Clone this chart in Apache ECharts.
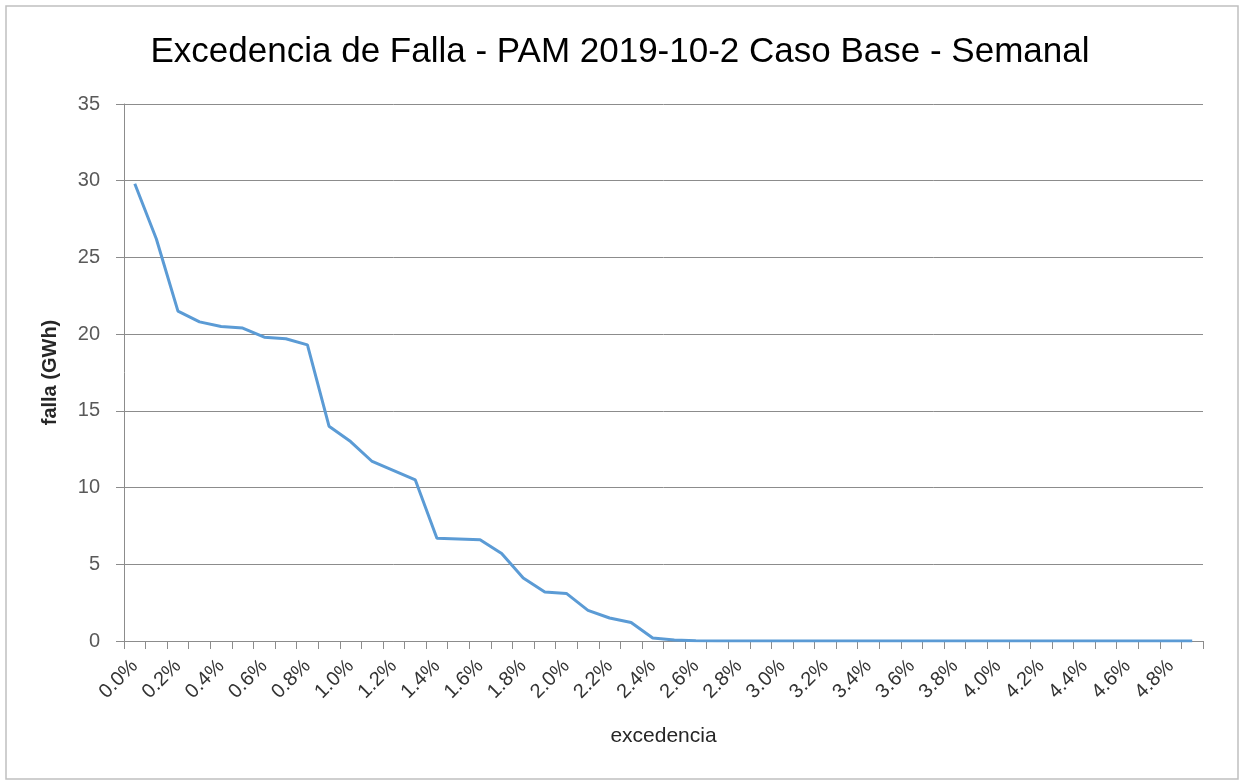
<!DOCTYPE html>
<html>
<head>
<meta charset="utf-8">
<script src="https://cdn.jsdelivr.net/npm/echarts@6/dist/echarts.min.js"></script>
<style>
  html, body { margin: 0; padding: 0; background: #fff; }
  #chart { width: 1240px; height: 781px; }
</style>
</head>
<body>
<div id="chart"></div>
<script>
// categorías del eje x (excedencia)
const excedencia = ['0.0%', '0.1%', '0.2%', '0.3%', '0.4%', '0.5%', '0.6%', '0.7%', '0.8%', '0.9%',
  '1.0%', '1.1%', '1.2%', '1.3%', '1.4%', '1.5%', '1.6%', '1.7%', '1.8%', '1.9%',
  '2.0%', '2.1%', '2.2%', '2.3%', '2.4%', '2.5%', '2.6%', '2.7%', '2.8%', '2.9%',
  '3.0%', '3.1%', '3.2%', '3.3%', '3.4%', '3.5%', '3.6%', '3.7%', '3.8%', '3.9%',
  '4.0%', '4.1%', '4.2%', '4.3%', '4.4%', '4.5%', '4.6%', '4.7%', '4.8%', '4.9%']

// falla (GWh)
const falla = [29.8, 26.2, 21.5, 20.8, 20.5, 20.4, 19.8, 19.7, 19.3, 14.0,
  13.0, 11.7, 11.1, 10.5, 6.7, 6.65, 6.6, 5.7, 4.1, 3.2,
  3.1, 2.0, 1.5, 1.2, 0.2, 0.07, 0.02, 0, 0, 0,
  0, 0, 0, 0, 0, 0, 0, 0, 0, 0,
  0, 0, 0, 0, 0, 0, 0, 0, 0, 0]

const yTicks = [0, 5, 10, 15, 20, 25, 30, 35]

const chart = echarts.init(document.getElementById('chart'))
const gris = '#8C8C8C'
const fuente = "'Liberation Sans', Arial, sans-serif"

chart.setOption({
  animation: false,
  textStyle: { fontFamily: fuente },
  title: {
    text: 'Excedencia de Falla - PAM 2019-10-2 Caso Base - Semanal',
    left: 'center',
    top: 30,
    textStyle: { fontSize: 35, fontWeight: 'normal', color: '#000', fontFamily: fuente }
  },
  graphic: [{
    type: 'rect',
    shape: { x: 6, y: 6, width: 1232, height: 773 },
    style: { fill: 'none', stroke: '#C0C0C0', lineWidth: 1.5 },
    silent: true
  }],
  grid: { left: 124, right: 37, top: 104, bottom: 140 },
  xAxis: {
    type: 'category',
    data: excedencia,
    boundaryGap: true,
    name: 'excedencia',
    nameLocation: 'middle',
    nameGap: 85,
    nameTextStyle: { fontSize: 21, color: '#262626' },
    axisLine: { lineStyle: { color: gris, width: 1 } },
    axisTick: { show: true, interval: 0, length: 8, lineStyle: { color: gris } },
    axisLabel: { interval: 1, rotate: 45, fontSize: 20, color: '#333', margin: 22 },
    splitLine: { show: false }
  },
  yAxis: {
    type: 'value',
    min: yTicks[0],
    max: yTicks[yTicks.length - 1],
    interval: 5,
    name: 'falla (GWh)',
    nameLocation: 'middle',
    nameGap: 64,
    nameTextStyle: { fontSize: 20, fontWeight: 'bold', color: '#262626' },
    axisLine: { show: true, lineStyle: { color: gris, width: 1 } },
    axisTick: { show: true, length: 8, lineStyle: { color: gris } },
    axisLabel: { fontSize: 20, color: '#595959', margin: 24 },
    splitLine: { lineStyle: { color: gris, width: 1 } }
  },
  series: [{
    name: 'falla',
    type: 'line',
    data: falla,
    symbol: 'none',
    lineStyle: { color: '#5B9BD5', width: 3 }
  }]
})
</script>
</body>
</html>
